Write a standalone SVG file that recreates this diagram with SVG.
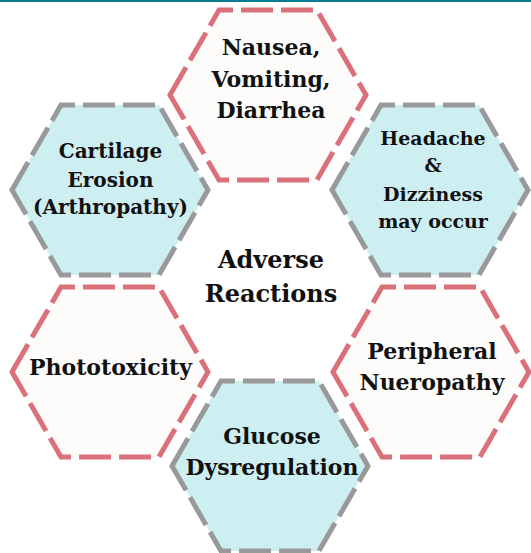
<svg xmlns="http://www.w3.org/2000/svg" width="531" height="553" viewBox="0 0 531 553">
  <defs>
    <path id="hex" d="M-98,0 L-49,-84.9 L49,-84.9 L98,0 L49,84.9 L-49,84.9 Z"/>
  </defs>
  <style>
    .pink { fill: #fdfcfb; stroke: #d9707a; stroke-width: 5; stroke-dasharray: 32 8; stroke-linejoin: miter; }
    .gray { fill: #ceeff1; stroke: #999999; stroke-width: 5; stroke-dasharray: 32 8; stroke-linejoin: miter; }
    text { font-family: "DejaVu Serif", "Liberation Serif", serif; font-weight: bold; fill: #111111; text-anchor: middle; }
    .t22 { font-size: 22px; }
    .t20 { font-size: 20px; }
    .t19 { font-size: 19px; }
    .t24 { font-size: 24px; }
  </style>
  <rect x="0" y="0" width="531" height="553" fill="#ffffff"/>
  <rect x="0" y="0" width="531" height="2" fill="#0a7d8c"/>

  <g id="connectors"></g>

  <g id="node-nausea">
    <use href="#hex" class="pink" transform="translate(268,95)"/>
    <text class="t22" x="271" y="55">Nausea,</text>
    <text class="t22" x="271" y="87">Vomiting,</text>
    <text class="t22" x="271" y="118">Diarrhea</text>
  </g>

  <g id="node-cartilage">
    <use href="#hex" class="gray" transform="translate(110,190)"/>
    <text class="t20" x="110.5" y="158">Cartilage</text>
    <text class="t20" x="110.5" y="187">Erosion</text>
    <text class="t20" x="110.5" y="214">(Arthropathy)</text>
  </g>

  <g id="node-headache">
    <use href="#hex" class="gray" transform="translate(430,190)"/>
    <text class="t19" x="433" y="145">Headache</text>
    <text class="t19" x="433" y="172">&amp;</text>
    <text class="t19" x="433" y="201">Dizziness</text>
    <text class="t19" x="433" y="228">may occur</text>
  </g>

  <g id="node-phototoxicity">
    <use href="#hex" class="pink" transform="translate(110,372)"/>
    <text class="t22" x="110.5" y="375">Phototoxicity</text>
  </g>

  <g id="node-peripheral">
    <use href="#hex" class="pink" transform="translate(431,372)"/>
    <text class="t22" x="432" y="359">Peripheral</text>
    <text class="t22" x="432" y="390">Nueropathy</text>
  </g>

  <g id="node-glucose">
    <use href="#hex" class="gray" transform="translate(270,466)"/>
    <text class="t22" x="272" y="444">Glucose</text>
    <text class="t22" x="272" y="475">Dysregulation</text>
  </g>

  <g id="node-center">
    <text class="t24" x="271" y="268">Adverse</text>
    <text class="t24" x="271" y="302">Reactions</text>
  </g>
</svg>
